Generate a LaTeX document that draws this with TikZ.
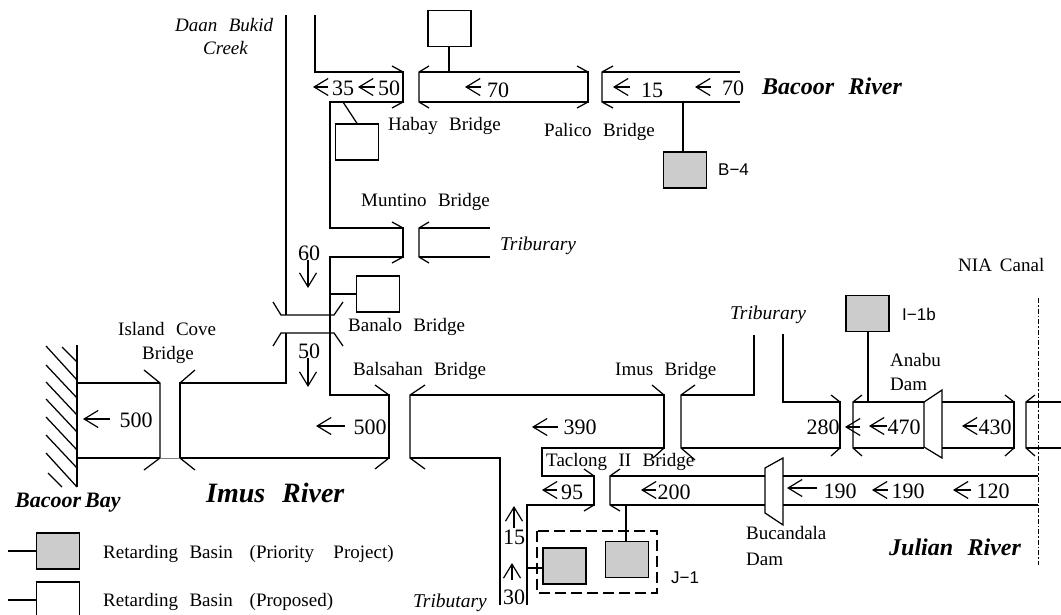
\documentclass[tikz,border=0pt]{standalone}
\usepackage{fontspec}
\setmainfont[WordSpace=2.4]{Liberation Serif}
\setsansfont{Liberation Sans}
\usetikzlibrary{arrows.meta}
\newcommand{\fs}[1]{\fontsize{#1}{#1}\selectfont}
\tikzset{
  bank/.style={line width=1.25pt,line join=miter},
  thin bank/.style={line width=0.6pt,gray},
  flow/.style={line width=1.2pt,-{Straight Barb[length=14pt,width=17pt,line width=1.2pt]}},
  num/.style={inner sep=0pt,anchor=center,font=\fs{22}},
  lab/.style={inner sep=0pt,anchor=base west,font=\fs{19}},
  itlab/.style={lab,font=\fs{19.5}\itshape},
  sanslab/.style={inner sep=0pt,anchor=base west,font=\fs{17}\sffamily},
  basin/.style={draw,line width=1.3pt,inner sep=0pt,minimum width=43pt,minimum height=36pt,anchor=center},
  prio/.style={basin,fill=black!20},
  plain/.style={basin,fill=white},
}
\begin{document}
\begin{tikzpicture}[x=1pt,y=-1pt]
\useasboundingbox (0,0) rectangle (1061,615);
% Bacoor River and branches
\draw[bank] (286,15) -- (286,315);
\draw[bank] (315,15) -- (315,72) -- (403,72) -- (403,102) -- (330,102) -- (330,228) -- (403,228) -- (403,257) -- (330,257) -- (330,395) -- (389,395) -- (389,458) -- (180,458) -- (180,383) -- (286,383) -- (286,333);
\draw[bank] (392,66) -- (403,72) (392,108) -- (403,102);
\draw[bank] (392,222) -- (403,228) (392,263) -- (403,257);
\draw[bank] (429,66) -- (419,72) -- (419,102) -- (429,108);
\draw[bank] (419,72) -- (588,72) -- (588,102) -- (419,102);
\draw[bank] (577,66) -- (588,72) (577,108) -- (588,102);
\draw[bank] (613,66) -- (602,72) -- (602,102) -- (613,108);
\draw[bank] (602,72) -- (740,72) (602,102) -- (740,102);
\draw[bank] (429,222) -- (419,228) -- (419,257) -- (429,263);
\draw[bank] (419,228) -- (490,228) (419,257) -- (490,257);
% Banalo bridge
\draw[bank] (273,302) -- (281,315) -- (334,315) -- (343,302);
\draw[bank] (273,346) -- (281,333) -- (334,333) -- (343,346);
% Imus River
\draw[bank] (160,383) -- (77,383) (160,458) -- (77,458);
\draw[bank] (144,370) -- (160,383) -- (160,458) -- (144,470);
\draw[bank] (195,370) -- (180,383) (195,470) -- (180,458);
\draw[thin bank] (160,458) -- (180,458);
\draw[bank] (375,385) -- (389,395) (375,469) -- (389,458);
\draw[bank] (425,385) -- (410,395) -- (410,458) -- (425,469);
\draw[bank] (410,395) -- (664,395) -- (664,448) -- (542,448) -- (542,476) -- (594,476) -- (594,505) -- (527,505) -- (527,605);
\draw[bank] (410,458) -- (500,458) -- (500,605);
\draw[bank] (652,385) -- (664,395) (653,458) -- (664,448);
\draw[bank] (695,385) -- (681,395) -- (681,448) -- (695,460);
\draw[bank] (681,395) -- (754,395) -- (754,335);
\draw[bank] (783,334) -- (783,402) -- (840,402) -- (840,448) -- (681,448);
\draw[bank] (831,395) -- (840,402) (831,456) -- (840,448);
\draw[bank] (862,395) -- (853,402) -- (853,448) -- (862,456);
\draw[bank] (853,402) -- (924,402) (853,448) -- (924,448);
\draw[bank] (924,402) -- (942,390) -- (942,458) -- (924,447) -- cycle;
\draw[bank] (942,402) -- (1014,402) -- (1014,448) -- (942,448);
\draw[bank] (1005,395) -- (1014,402) (1005,456) -- (1014,448);
\draw[bank] (1035,395) -- (1026,402) -- (1026,448) -- (1035,456);
\draw[bank] (1026,402) -- (1061,402) (1026,448) -- (1061,448);
% Julian River
\draw[bank] (584,469) -- (594,476) (584,511) -- (594,505);
\draw[bank] (620,469) -- (610,476) -- (610,505) -- (620,511);
\draw[bank] (610,476) -- (765,476) (610,505) -- (765,505);
\draw[bank] (765,513) -- (765,468) -- (783,458) -- (783,525) -- cycle;
\draw[bank] (783,476) -- (1038,476) (783,505) -- (1038,505);
\draw[line width=1pt,dash pattern=on 5pt off 2pt on 1.5pt off 2pt] (1038,298) -- (1038,565);
% Bay
\draw[bank] (77,345) -- (77,487);
\draw[bank] (62,347) -- (77,362) (46,346) -- (77,380) (46,365) -- (77,398) (46,382) -- (77,415) (46,399) -- (77,432) (46,417) -- (77,450) (46,435) -- (77,468) (46,453) -- (77,487) (48,473) -- (62,487);
% J-1 group
\draw[line width=2.6pt,dash pattern=on 11pt off 5pt] (537,531) rectangle (657,593);
% Basins
\node[plain] (bTop) at (449.5,28.5) {};
\node[plain] (bHabay) at (357,142) {};
\node[prio] (bB) at (685,170) {};
\node[plain] (bBanalo) at (378,294) {};
\node[prio] (bI) at (867.5,313.5) {};
\node[prio] (bJa) at (564.5,566) {};
\node[prio] (bJb) at (627,559.5) {};
\node[prio] (lgA) at (58,551) {};
\node[plain] (lgB) at (58,600) {};
\coordinate (cTop) at (449,72);
\coordinate (cHabay) at (343,102);
\coordinate (cB) at (683,102);
\coordinate (cBanalo) at (330,294);
\coordinate (cI) at (868,402);
\coordinate (cJa) at (527,568);
\coordinate (cJb) at (626,505);
\coordinate (cLgA) at (8,551);
\coordinate (cLgB) at (8,600);
\draw[bank] (cTop |- bTop.south) -- (cTop);
\draw[bank] (bHabay.north) -- (cHabay);
\draw[bank] (cB |- bB.north) -- (cB);
\draw[bank] (bBanalo.west) -- (cBanalo);
\draw[bank] (cI |- bI.south) -- (cI);
\draw[bank] (bJa.west |- cJa) -- (cJa);
\draw[bank] (cJb |- bJb.north) -- (cJb);
\draw[bank] (lgA.west) -- (cLgA);
\draw[bank] (lgB.west) -- (cLgB);
% Flow arrows
\draw[flow] (328,87) -- (313,87);
\draw[flow] (375,87) -- (358,87);
\draw[flow] (481,87) -- (465,87);
\draw[flow] (630,87) -- (613,87);
\draw[flow] (711,87) -- (695,87);
\draw[flow] (110,419) -- (83,419);
\draw[flow] (345,426) -- (316,426);
\draw[flow] (558,427) -- (532,427);
\draw[flow] (557,490) -- (542,490);
\draw[flow] (656,490) -- (641,490);
\draw[flow] (817,488) -- (787,488);
\draw[flow] (888,490) -- (872,490);
\draw[flow] (971,490) -- (953,490);
\draw[flow] (860,427) -- (845,427);
\draw[flow] (887,426) -- (869,426);
\draw[flow] (977,426) -- (962,426);
\draw[flow] (308,260) -- (308,288);
\draw[flow] (308,358) -- (308,387);
\draw[flow] (514,528) -- (514,506);
\draw[flow] (512,580) -- (512,563);
% Numbers
\node[num] (n35) at (343,88) {35};
\node[num] (n50a) at (389,88) {50};
\node[num] (n70a) at (498,90) {70};
\node[num] (n15a) at (652,90) {15};
\node[num] (n70b) at (733,88) {70};
\node[num] (n500a) at (136,420) {500};
\node[num] (n500b) at (370,427) {500};
\node[num] (n390) at (580,427) {390};
\node[num] (n95) at (572,492) {95};
\node[num] (n200) at (674,492) {200};
\node[num] (n15b) at (514,537) {15};
\node[num] (n30) at (514,597) {30};
\node[num] (n60) at (309,253) {60};
\node[num] (n50b) at (309,351) {50};
\node[num] (n280) at (823,427) {280};
\node[num] (n470) at (904,427) {470};
\node[num] (n430) at (995,427) {430};
\node[num] (n190a) at (840,491) {190};
\node[num] (n190b) at (908,491) {190};
\node[num] (n120) at (993,491) {120};
% Labels
\node[itlab,font=\fs{19}\itshape] (tDaan) at (175,32) {Daan Bukid};
\node[itlab,font=\fs{19}\itshape] (tCreek) at (203,55) {Creek};
\node[lab,font=\fs{24}\bfseries\itshape] (tBacoor) at (762,95) {Bacoor River};
\node[lab] (tHabay) at (388,131) {Habay Bridge};
\node[lab] (tPalico) at (544,137) {Palico Bridge};
\node[sanslab] (tB) at (718,176) {B−4};
\node[lab] (tMuntino) at (361,207) {Muntino Bridge};
\node[itlab] (tTrib1) at (500,250) {Triburary};
\node[lab] (tBanalo) at (348,331) {Banalo Bridge};
\node[lab] (tIsland) at (118,335) {Island Cove};
\node[lab] (tIsland2) at (142,359) {Bridge};
\node[lab] (tBalsahan) at (353,375) {Balsahan Bridge};
\node[lab] (tImus) at (615,375) {Imus Bridge};
\node[itlab] (tTrib2) at (730,319) {Triburary};
\node[lab] (tNIA) at (958,271) {\spaceskip=8pt NIA Canal};
\node[sanslab] (tI) at (902,320) {I−1b};
\node[lab] (tAnabu) at (890,366) {Anabu};
\node[lab] (tDam) at (890,390) {Dam};
\node[lab] (tTaclong) at (546,466) {Taclong II Bridge};
\node[lab] (tBuc) at (746,539) {Bucandala};
\node[lab] (tBuc2) at (746,565) {Dam};
\node[lab,font=\fs{24}\bfseries\itshape] (tJulian) at (889,555) {Julian River};
\node[lab,font=\fs{28}\bfseries\itshape] (tImusR) at (206,502) {Imus River};
\node[lab,font=\fs{22}\bfseries\itshape] (tBay) at (15,507) {\spaceskip=4pt Bacoor Bay};
\node[lab] (tLgA) at (103,558) {Retarding Basin\hspace{5.5pt} (Priority\hspace{8pt} Project)};
\node[lab] (tLgB) at (103,606) {Retarding Basin\hspace{5.5pt} (Proposed)};
\node[itlab] (tTrib3) at (413,607) {Tributary};
\node[sanslab] (tJ) at (671,583) {J−1};
\end{tikzpicture}
\end{document}
